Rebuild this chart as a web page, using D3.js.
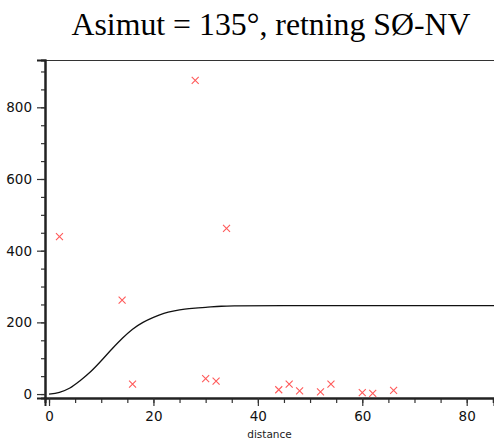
<!DOCTYPE html>
<html>
<head>
<meta charset="utf-8">
<script src="https://cdn.jsdelivr.net/npm/d3@7"></script>
<style>
  body { margin: 0; background: #fff; }
  svg { display: block; }
</style>
</head>
<body>
<div id="chart"></div>
<script>
// observed points (distance, semivariance)
var pointDist = [2, 14, 16, 28, 30, 32, 34, 44, 46, 48, 52, 54, 60, 62, 66];
var pointVal  = [439, 262, 28, 875, 43, 36, 462, 12, 28, 9, 6, 28, 4, 2, 10];

// fitted model line
var modelDist = [0, 2, 4, 6, 8, 10, 12, 14, 16, 18, 20, 22, 24, 26, 28, 30, 33, 36, 45, 60, 86];
var modelVal  = [0, 5, 17, 38, 63, 93, 125, 155, 181, 200, 214, 225, 232, 237, 240, 242, 245, 246, 247, 247, 247];

var xTicks = [0, 20, 40, 60, 80];
var yTicks = [0, 200, 400, 600, 800];

var W = 494, H = 444;
var margin = { top: 60, right: 0, bottom: 46, left: 45 };

var svg = d3.select("#chart").append("svg")
    .attr("width", W)
    .attr("height", H);

var x = d3.scaleLinear().domain([-0.77, 85.23]).range([margin.left, W - margin.right]);
var y = d3.scaleLinear().domain([-11, 932]).range([H - margin.bottom, margin.top]);

// title
svg.append("text")
    .attr("x", 271)
    .attr("y", 35)
    .attr("text-anchor", "middle")
    .style("font-family", "'Liberation Serif', 'Times New Roman', serif")
    .style("font-size", "31.8px")
    .style("fill", "#000")
    .text("Asimut = 135°, retning SØ-NV");

// top frame line
svg.append("line")
    .attr("x1", margin.left).attr("x2", W)
    .attr("y1", margin.top + 0.5).attr("y2", margin.top + 0.5)
    .attr("stroke", "#333").attr("stroke-width", 1.2);

// minor ticks
var xMinor = d3.range(0, 86, 5);
var yMinor = d3.range(0, 931, 50);

var xAxisG = svg.append("g").attr("transform", "translate(0," + (H - margin.bottom) + ")");
xAxisG.call(d3.axisBottom(x).tickValues(xMinor).tickSize(5).tickFormat(""));
xAxisG.call(function(g) {
  g.append("g").call(d3.axisBottom(x).tickValues(xTicks).tickSize(8).tickPadding(5));
});

var yAxisG = svg.append("g").attr("transform", "translate(" + margin.left + ",0)");
yAxisG.call(d3.axisLeft(y).tickValues(yMinor).tickSize(4).tickFormat(""));
yAxisG.call(function(g) {
  g.append("g").call(d3.axisLeft(y).tickValues(yTicks).tickSize(8).tickPadding(5));
});

svg.selectAll(".domain").attr("stroke", "#222").attr("stroke-width", 2);
svg.selectAll(".tick line").attr("stroke", "#333").attr("stroke-width", 1.2);
svg.selectAll(".tick text")
    .style("font-family", "'DejaVu Sans', Tahoma, sans-serif")
    .style("font-size", "13.5px")
    .style("fill", "#111");

// x axis label
svg.append("text")
    .attr("x", (margin.left + W) / 2)
    .attr("y", 438)
    .attr("text-anchor", "middle")
    .style("font-family", "'DejaVu Sans', Tahoma, sans-serif")
    .style("font-size", "10.5px")
    .style("fill", "#222")
    .text("distance");

// model curve
var model = modelDist.map(function(d, i) { return [d, modelVal[i]]; });
var line = d3.line()
    .x(function(d) { return x(d[0]); })
    .y(function(d) { return y(d[1]); })
    .curve(d3.curveMonotoneX);

svg.append("path")
    .datum(model)
    .attr("fill", "none")
    .attr("stroke", "#111")
    .attr("stroke-width", 1.3)
    .attr("d", line);

// crosses
var pts = pointDist.map(function(d, i) { return { d: d, v: pointVal[i] }; });
var s = 3.5;
svg.selectAll(".pt")
    .data(pts)
    .enter().append("path")
    .attr("class", "pt")
    .attr("d", function(p) {
      var cx = x(p.d), cy = y(p.v);
      return "M" + (cx - s) + "," + (cy - s) + "L" + (cx + s) + "," + (cy + s) +
             "M" + (cx - s) + "," + (cy + s) + "L" + (cx + s) + "," + (cy - s);
    })
    .attr("stroke", "#ff5a5a")
    .attr("stroke-width", 1.1)
    .attr("fill", "none");
</script>
</body>
</html>
